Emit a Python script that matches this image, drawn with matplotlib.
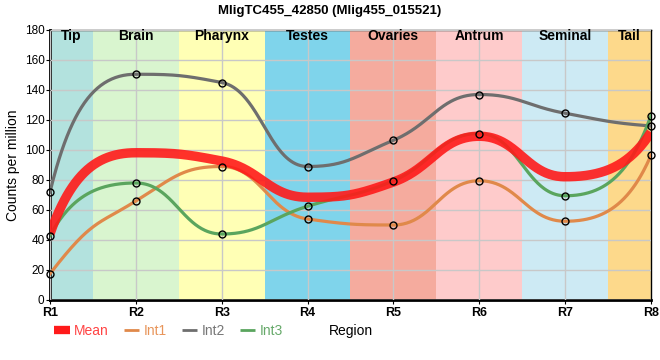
import numpy as np
import matplotlib
matplotlib.use("Agg")
import matplotlib.pyplot as plt
from matplotlib.lines import Line2D

plt.rcParams['font.family'] = ['Liberation Sans', 'DejaVu Sans']

# data
regions = ['R1', 'R2', 'R3', 'R4', 'R5', 'R6', 'R7', 'R8']
int1 = [17.5, 66, 89, 54, 50, 79.5, 52.5, 96.5]
int2 = [72, 150.5, 145, 89, 106.5, 137, 124.5, 116]
int3 = [43, 78, 44, 62.5, 79.5, 111, 69.5, 123]
mean = [(a + b + c) / 3 for a, b, c in zip(int1, int2, int3)]

band_names = ['Tip', 'Brain', 'Pharynx', 'Testes', 'Ovaries', 'Antrum', 'Seminal', 'Tail']
band_colors = ['#b3e2de', '#d9f5cf', '#ffffb5', '#7fd4eb', '#f5ab9e',
               '#fecbcb', '#cdeaf4', '#fdd98b']


def smooth_curve(y, a=0.45, n=80):
    # bezier spline through the points, flat at peaks and valleys
    y = np.asarray(y, float)
    k = len(y)
    s = np.diff(y)
    m = np.zeros(k)
    for i in range(1, k - 1):
        s0, s1 = s[i - 1], s[i]
        p = (s0 + s1) / 2
        m[i] = (np.sign(s0) + np.sign(s1)) * min(abs(s0), abs(s1), 0.5 * abs(p))
    m[0] = 3 * s[0] - 2 * m[1]
    m[-1] = 3 * s[-1] - 2 * m[-2]

    def handle(mi, dy, end):
        if end and mi != 0:
            lam = min(0.5, 0.75 * abs(dy) / abs(mi))
        else:
            lam = a
        off = lam * mi
        if abs(off) > abs(dy):
            off = dy
        return lam, off

    xs, ys = [], []
    for i in range(k - 1):
        t = np.linspace(0, 1, n, endpoint=(i == k - 2))
        lx0, ly0 = handle(m[i], s[i], i == 0)
        lx1, ly1 = handle(m[i + 1], s[i], i + 1 == k - 1)
        px = [i, i + lx0, i + 1 - lx1, i + 1]
        py = [y[i], y[i] + ly0, y[i + 1] - ly1, y[i + 1]]
        b = [(1 - t)**3, 3 * (1 - t)**2 * t, 3 * (1 - t) * t**2, t**3]
        xs.append(sum(bj * pj for bj, pj in zip(b, px)))
        ys.append(sum(bj * pj for bj, pj in zip(b, py)))
    return np.concatenate(xs), np.concatenate(ys)


fig = plt.figure(figsize=(6.6, 3.6), dpi=100)
ax = fig.add_axes([50 / 660, 60 / 360, 601 / 660, 270 / 360])

x = np.arange(len(regions))
for i, (name, col) in enumerate(zip(band_names, band_colors)):
    lo = max(i - 0.5, 0)
    hi = min(i + 0.5, len(regions) - 1)
    ax.axvspan(lo, hi, color=col, lw=0, zorder=0)
    ax.text((lo + hi) / 2, 176, name, ha='center', va='center',
            fontsize=10, fontweight='bold', zorder=5)

ax.grid(True, color='#c8c8c8', lw=1, zorder=1)
ax.set_axisbelow(False)

c_mean = '#ff1a1a'
c1 = '#e0894a'
c2 = '#6e6e6e'
c3 = '#5aa55e'

for vals, col in [(int1, c1), (int2, c2), (int3, c3)]:
    xs, ys = smooth_curve(vals)
    ax.plot(xs, ys, color=col, lw=2.3, zorder=3)
xs, ys = smooth_curve(mean)
ax.plot(xs, ys, color=c_mean, lw=6.8, alpha=0.9, zorder=4, solid_capstyle='butt')
for vals in [int1, int2, int3]:
    ax.plot(x, vals, 'o', ms=5, mfc='none', mec='black', mew=1, zorder=6, clip_on=False)

ax.set_xlim(0, len(regions) - 1)
ax.set_ylim(0, 180)
ax.set_yticks(range(0, 181, 20))
ax.set_xticks(x)
ax.set_xticklabels(regions, fontweight='bold', fontsize=9)
ax.tick_params(axis='y', labelsize=8.5, length=3, pad=1)
ax.tick_params(axis='x', length=3, pad=2)
for sp in ['left', 'bottom']:
    ax.spines[sp].set_linewidth(2)
for sp in ['right', 'top']:
    ax.spines[sp].set_linewidth(1)

ax.set_ylabel('Counts per million', fontsize=10, labelpad=3)
ax.set_xlabel('Region', fontsize=10, labelpad=4)
fig.suptitle('MligTC455_42850 (Mlig455_015521)', fontsize=9.5, fontweight='bold', y=0.985)

handles = [Line2D([], [], color=c_mean, lw=6, solid_capstyle='butt'),
           Line2D([], [], color=c1, lw=2, solid_capstyle='butt'),
           Line2D([], [], color=c2, lw=2, solid_capstyle='butt'),
           Line2D([], [], color=c3, lw=2, solid_capstyle='butt')]
leg = fig.legend(handles, ['Mean', 'Int1', 'Int2', 'Int3'], loc='center left',
                 bbox_to_anchor=(42 / 660, 1 - 331 / 360), ncol=4, frameon=False,
                 fontsize=10, handlelength=1.1, handletextpad=0.3, columnspacing=1.1)
for t, col in zip(leg.get_texts(), ['#ff4444', '#e8955a', '#777777', '#66a96a']):
    t.set_color(col)

fig.savefig('out.png', dpi=100)
